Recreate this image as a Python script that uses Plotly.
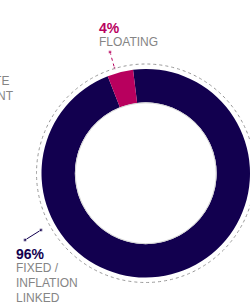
import plotly.graph_objects as go

labels = ["FIXED / INFLATION LINKED", "FLOATING"]
values = [96, 4]
colors = ["#12004F", "#B8005E"]
pct_text = ["96%", "4%"]
name_lines = [["FIXED /", "INFLATION", "LINKED"], ["FLOATING"]]
gray = "#858585"

W, H = 250, 302
fig = go.Figure()

# donut
cx0, cx1 = 41.5, 250.0
cy_top, cy_bot = 69.0, 277.5
fig.add_trace(go.Pie(
    labels=labels, values=values, sort=False, direction="clockwise",
    rotation=-7, hole=0.68, textinfo="none", hoverinfo="label+percent",
    marker=dict(colors=colors, line=dict(width=0)), showlegend=False,
    domain=dict(x=[cx0 / W, cx1 / W], y=[1 - cy_bot / H, 1 - cy_top / H]),
))

cx = (cx0 + cx1) / 2
cy = (cy_top + cy_bot) / 2
R = (cx1 - cx0) / 2

# leader lines
fig.add_trace(go.Scatter(x=[110, 114.5], y=[52, 68], mode="lines+markers",
                         line=dict(color=colors[1], width=1, dash="dot"),
                         marker=dict(size=[4, 3], color=colors[1]),
                         showlegend=False, hoverinfo="skip"))
fig.add_trace(go.Scatter(x=[25, 41], y=[240, 230], mode="lines+markers",
                         line=dict(color=colors[0], width=1),
                         marker=dict(size=[4, 4], color=colors[0]),
                         showlegend=False, hoverinfo="skip"))

shapes = [
    dict(type="circle", xref="x", yref="y", x0=cx - R - 5, x1=cx + R + 5,
         y0=cy - R - 5, y1=cy + R + 5, line=dict(color="#9a9a9a", width=1, dash="dot")),
    dict(type="circle", xref="x", yref="y", x0=cx - 0.68 * R + 0.5, x1=cx + 0.68 * R - 0.5,
         y0=cy - 0.68 * R + 0.5, y1=cy + 0.68 * R - 0.5, line=dict(color="#d4d4d4", width=1)),
]

font = "Liberation Sans, Arial, sans-serif"
ann = [
    dict(x=98, y=27.5, text="<b>" + pct_text[1] + "</b>",
         font=dict(family=font, size=14, color=colors[1])),
    dict(x=98, y=41.5, text=name_lines[1][0],
         font=dict(family=font, size=12, color=gray)),
    dict(x=15, y=253.5, text="<b>" + pct_text[0] + "</b>",
         font=dict(family=font, size=14, color=colors[0])),
]
for i, line in enumerate(name_lines[0]):
    ann.append(dict(x=15, y=267.5 + 15 * i, text=line,
                    font=dict(family=font, size=12, color=gray)))
ann.append(dict(x=10, y=80.5, text="ATE", xanchor="right",
                font=dict(family=font, size=12, color=gray)))
ann.append(dict(x=15, y=96, text="MENT", xanchor="right",
                font=dict(family=font, size=12, color=gray)))
for a in ann:
    a.setdefault("xanchor", "left")
    a.update(xref="x", yref="y", showarrow=False, borderpad=0, yanchor="middle")

fig.update_layout(
    width=W, height=H, margin=dict(l=0, r=0, t=0, b=0),
    paper_bgcolor="white", plot_bgcolor="rgba(0,0,0,0)",
    xaxis=dict(range=[0, W], visible=False, fixedrange=True, domain=[0, 1]),
    yaxis=dict(range=[H, 0], visible=False, fixedrange=True, domain=[0, 1]),
    shapes=shapes, annotations=ann, showlegend=False,
)
fig.write_html("out.html", config={"displayModeBar": False},
               post_script="document.body.style.margin='0';document.body.style.overflow='hidden';")
